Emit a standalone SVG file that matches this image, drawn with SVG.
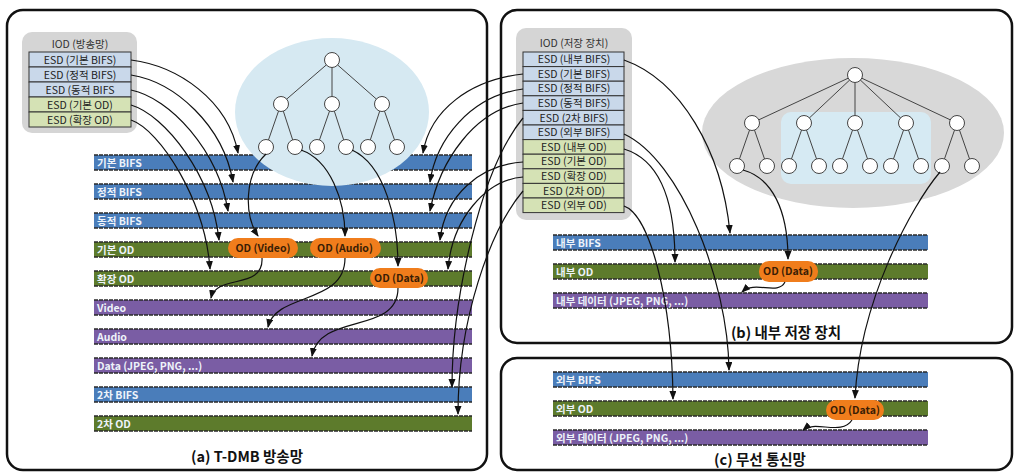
<svg xmlns="http://www.w3.org/2000/svg" width="1016" height="472" viewBox="0 0 1016 472">
<defs>
<marker id="ah" markerUnits="userSpaceOnUse" markerWidth="9" markerHeight="8" refX="8" refY="3.5" orient="auto"><path d="M0,0 L9,3.5 L0,7 z" fill="#111"/></marker>
<style>
.panel{fill:#fff;stroke:#111;stroke-width:2.5}
.iodbg{fill:#d5d5d5}
.ttl{font-family:"Noto Sans CJK KR","Liberation Sans",sans-serif;font-size:10.5px;fill:#333;text-anchor:middle}
.rb{fill:#c9d8ea;stroke:#333;stroke-width:1}
.rg{fill:#d5e2b5;stroke:#333;stroke-width:1}
.rt{font-family:"Noto Sans CJK KR","Liberation Sans",sans-serif;font-size:10.5px;fill:#222;text-anchor:middle}
.bB{fill:#4a7dba}
.bG{fill:#5d7b2c}
.bP{fill:#7a5da4}
.edge{stroke:#2a2a2a;stroke-width:1.4;stroke-dasharray:4 1}
.bt{font-family:"Noto Sans CJK KR","Liberation Sans",sans-serif;font-size:10.5px;font-weight:bold;fill:#eef3fa}
.tn{fill:#fff;stroke:#444;stroke-width:1}
.te{stroke:#444;stroke-width:1;fill:none}
.pill{fill:#f07d1c}
.pt{font-family:"Noto Sans CJK KR","Liberation Sans",sans-serif;font-size:10.5px;font-weight:bold;fill:#3a1d05;text-anchor:middle}
.cap{font-family:"Noto Sans CJK KR","Liberation Sans",sans-serif;font-size:14.5px;font-weight:bold;fill:#111;text-anchor:middle}
.c{fill:none;stroke:#111;stroke-width:1.2;marker-end:url(#ah)}
</style>
</defs>
<rect width="1016" height="472" fill="#fff"/>

<g id="panel-a">
<rect class="panel" x="7" y="10" width="480" height="460" rx="16"/>
<text class="cap" x="247" y="462">(a) T-DMB 방송망</text>
</g>
<g id="panel-b">
<rect class="panel" x="501" y="10" width="511" height="333" rx="16"/>
<text class="cap" x="786" y="338">(b) 내부 저장 장치</text>
</g>
<g id="panel-c">
<rect class="panel" x="501" y="358" width="511" height="112" rx="16"/>
<text class="cap" x="760" y="465">(c) 무선 통신망</text>
</g>

<g id="iod-broadcast">
<rect class="iodbg" x="22" y="32" width="115" height="101" rx="10"/>
<text class="ttl" x="80" y="48">IOD (방송망)</text>
<rect class="rb" x="29" y="52" width="102" height="15"/><text class="rt" x="80" y="63.5">ESD (기본 BIFS)</text>
<rect class="rb" x="29" y="67" width="102" height="15"/><text class="rt" x="80" y="78.5">ESD (정적 BIFS)</text>
<rect class="rb" x="29" y="82" width="102" height="15"/><text class="rt" x="80" y="93.5">ESD (동적 BIFS</text>
<rect class="rg" x="29" y="97" width="102" height="15"/><text class="rt" x="80" y="108.5">ESD (기본 OD)</text>
<rect class="rg" x="29" y="112" width="102" height="15"/><text class="rt" x="80" y="123.5">ESD (확장 OD)</text>
</g>

<g id="iod-storage">
<rect class="iodbg" x="516" y="28" width="116" height="192" rx="10"/>
<text class="ttl" x="574" y="47">IOD (저장 장치)</text>
<rect class="rb" x="523" y="52" width="101" height="14.6"/><text class="rt" x="574" y="63.2">ESD (내부 BIFS)</text>
<rect class="rb" x="523" y="66.6" width="101" height="14.6"/><text class="rt" x="574" y="77.8">ESD (기본 BIFS)</text>
<rect class="rb" x="523" y="81.2" width="101" height="14.6"/><text class="rt" x="574" y="92.4">ESD (정적 BIFS)</text>
<rect class="rb" x="523" y="95.8" width="101" height="14.6"/><text class="rt" x="574" y="107">ESD (동적 BIFS)</text>
<rect class="rb" x="523" y="110.4" width="101" height="14.6"/><text class="rt" x="574" y="121.6">ESD (2차 BIFS)</text>
<rect class="rb" x="523" y="125" width="101" height="14.6"/><text class="rt" x="574" y="136.2">ESD (외부 BIFS)</text>
<rect class="rg" x="523" y="139.6" width="101" height="14.6"/><text class="rt" x="574" y="150.8">ESD (내부 OD)</text>
<rect class="rg" x="523" y="154.2" width="101" height="14.6"/><text class="rt" x="574" y="165.4">ESD (기본 OD)</text>
<rect class="rg" x="523" y="168.8" width="101" height="14.6"/><text class="rt" x="574" y="180">ESD (확장 OD)</text>
<rect class="rg" x="523" y="183.4" width="101" height="14.6"/><text class="rt" x="574" y="194.6">ESD (2차 OD)</text>
<rect class="rg" x="523" y="198" width="101" height="14.6"/><text class="rt" x="574" y="209.2">ESD (외부 OD)</text>
</g>

<g id="streams-a">
<g id="bar-basic-bifs"><rect class="bB" x="94" y="155" width="378" height="15"/><line class="edge" x1="94" y1="155" x2="472" y2="155"/><line class="edge" x1="94" y1="170" x2="472" y2="170"/><text class="bt" x="97" y="166.5">기본 BIFS</text></g>
<g id="bar-static-bifs"><rect class="bB" x="94" y="184" width="378" height="15"/><line class="edge" x1="94" y1="184" x2="472" y2="184"/><line class="edge" x1="94" y1="199" x2="472" y2="199"/><text class="bt" x="97" y="195.5">정적 BIFS</text></g>
<g id="bar-dynamic-bifs"><rect class="bB" x="94" y="213" width="378" height="15"/><line class="edge" x1="94" y1="213" x2="472" y2="213"/><line class="edge" x1="94" y1="228" x2="472" y2="228"/><text class="bt" x="97" y="224.5">동적 BIFS</text></g>
<g id="bar-basic-od"><rect class="bG" x="94" y="242" width="378" height="15"/><line class="edge" x1="94" y1="242" x2="472" y2="242"/><line class="edge" x1="94" y1="257" x2="472" y2="257"/><text class="bt" x="97" y="253.5">기본 OD</text></g>
<g id="bar-ext-od"><rect class="bG" x="94" y="271" width="378" height="15"/><line class="edge" x1="94" y1="271" x2="472" y2="271"/><line class="edge" x1="94" y1="286" x2="472" y2="286"/><text class="bt" x="97" y="282.5">확장 OD</text></g>
<g id="bar-video"><rect class="bP" x="94" y="300" width="378" height="15"/><line class="edge" x1="94" y1="300" x2="472" y2="300"/><line class="edge" x1="94" y1="315" x2="472" y2="315"/><text class="bt" x="97" y="311.5">Video</text></g>
<g id="bar-audio"><rect class="bP" x="94" y="329" width="378" height="15"/><line class="edge" x1="94" y1="329" x2="472" y2="329"/><line class="edge" x1="94" y1="344" x2="472" y2="344"/><text class="bt" x="97" y="340.5">Audio</text></g>
<g id="bar-data"><rect class="bP" x="94" y="358" width="378" height="15"/><line class="edge" x1="94" y1="358" x2="472" y2="358"/><line class="edge" x1="94" y1="373" x2="472" y2="373"/><text class="bt" x="97" y="369.5">Data (JPEG, PNG, ...)</text></g>
<g id="bar-2nd-bifs"><rect class="bB" x="94" y="387" width="378" height="15"/><line class="edge" x1="94" y1="387" x2="472" y2="387"/><line class="edge" x1="94" y1="402" x2="472" y2="402"/><text class="bt" x="97" y="398.5">2차 BIFS</text></g>
<g id="bar-2nd-od"><rect class="bG" x="94" y="416" width="378" height="15"/><line class="edge" x1="94" y1="416" x2="472" y2="416"/><line class="edge" x1="94" y1="431" x2="472" y2="431"/><text class="bt" x="97" y="427.5">2차 OD</text></g>
</g>

<g id="streams-b">
<g id="bar-int-bifs"><rect class="bB" x="553" y="235" width="375" height="15"/><line class="edge" x1="553" y1="235" x2="928" y2="235"/><line class="edge" x1="553" y1="250" x2="928" y2="250"/><text class="bt" x="556" y="246.5">내부 BIFS</text></g>
<g id="bar-int-od"><rect class="bG" x="553" y="264" width="375" height="15"/><line class="edge" x1="553" y1="264" x2="928" y2="264"/><line class="edge" x1="553" y1="279" x2="928" y2="279"/><text class="bt" x="556" y="275.5">내부 OD</text></g>
<g id="bar-int-data"><rect class="bP" x="553" y="293" width="375" height="15"/><line class="edge" x1="553" y1="293" x2="928" y2="293"/><line class="edge" x1="553" y1="308" x2="928" y2="308"/><text class="bt" x="556" y="304.5">내부 데이터 (JPEG, PNG, ...)</text></g>
</g>

<g id="streams-c">
<g id="bar-ext-bifs"><rect class="bB" x="553" y="372" width="375" height="15"/><line class="edge" x1="553" y1="372" x2="928" y2="372"/><line class="edge" x1="553" y1="387" x2="928" y2="387"/><text class="bt" x="556" y="383.5">외부 BIFS</text></g>
<g id="bar-ext-od2"><rect class="bG" x="553" y="401" width="375" height="15"/><line class="edge" x1="553" y1="401" x2="928" y2="401"/><line class="edge" x1="553" y1="416" x2="928" y2="416"/><text class="bt" x="556" y="412.5">외부 OD</text></g>
<g id="bar-ext-data"><rect class="bP" x="553" y="430" width="375" height="15"/><line class="edge" x1="553" y1="430" x2="928" y2="430"/><line class="edge" x1="553" y1="445" x2="928" y2="445"/><text class="bt" x="556" y="441.5">외부 데이터 (JPEG, PNG, ...)</text></g>
</g>

<g id="scene-tree-a">
<ellipse cx="332" cy="112" rx="97" ry="74" fill="#d6e9f2"/>
<path class="te" d="M332,60 L281,104 M332,60 L332,104 M332,60 L382,104 M281,104 L266,147 M281,104 L295,147 M332,104 L317,147 M332,104 L346,147 M382,104 L368,147 M382,104 L397,147"/>
<circle class="tn" cx="332" cy="60" r="7.5"/>
<circle class="tn" cx="281" cy="104" r="7.5"/><circle class="tn" cx="332" cy="104" r="7.5"/><circle class="tn" cx="382" cy="104" r="7.5"/>
<circle class="tn" cx="266" cy="147" r="7.5"/><circle class="tn" cx="295" cy="147" r="7.5"/><circle class="tn" cx="317" cy="147" r="7.5"/><circle class="tn" cx="346" cy="147" r="7.5"/><circle class="tn" cx="368" cy="147" r="7.5"/><circle class="tn" cx="397" cy="147" r="7.5"/>
</g>

<g id="scene-tree-b">
<ellipse cx="853" cy="133" rx="151" ry="75" fill="#d8d8d8"/>
<rect x="781" y="112" width="150" height="72" rx="10" fill="#d6eaf3"/>
<path class="te" d="M855,75 L752,123 M855,75 L804,123 M855,75 L855,123 M855,75 L906,123 M855,75 L957,123 M752,123 L737,166 M752,123 L767,166 M804,123 L789,166 M804,123 L819,166 M855,123 L840,166 M855,123 L870,166 M906,123 L891,166 M906,123 L921,166 M957,123 L942,166 M957,123 L972,166"/>
<circle class="tn" cx="855" cy="75" r="7.5"/>
<circle class="tn" cx="752" cy="123" r="7.5"/><circle class="tn" cx="804" cy="123" r="7.5"/><circle class="tn" cx="855" cy="123" r="7.5"/><circle class="tn" cx="906" cy="123" r="7.5"/><circle class="tn" cx="957" cy="123" r="7.5"/>
<circle class="tn" cx="737" cy="166" r="7.5"/><circle class="tn" cx="767" cy="166" r="7.5"/><circle class="tn" cx="789" cy="166" r="7.5"/><circle class="tn" cx="819" cy="166" r="7.5"/><circle class="tn" cx="840" cy="166" r="7.5"/><circle class="tn" cx="870" cy="166" r="7.5"/><circle class="tn" cx="891" cy="166" r="7.5"/><circle class="tn" cx="921" cy="166" r="7.5"/><circle class="tn" cx="942" cy="166" r="7.5"/><circle class="tn" cx="972" cy="166" r="7.5"/>
</g>

<g id="od-video"><rect class="pill" x="228" y="238" width="70" height="20" rx="10"/><text class="pt" x="263" y="252">OD (Video)</text></g>
<g id="od-audio"><rect class="pill" x="310" y="238" width="71" height="20" rx="10"/><text class="pt" x="345" y="252">OD (Audio)</text></g>
<g id="od-data-a"><rect class="pill" x="370" y="268" width="58" height="20" rx="10"/><text class="pt" x="399" y="282">OD (Data)</text></g>
<g id="od-data-b"><rect class="pill" x="759" y="261" width="59" height="21" rx="10"/><text class="pt" x="788" y="275">OD (Data)</text></g>
<g id="od-data-c"><rect class="pill" x="826" y="400" width="58" height="20" rx="10"/><text class="pt" x="855" y="414">OD (Data)</text></g>

<g id="connectors">
<path class="c" d="M131,60 C178,66 228,100 238,153"/>
<path class="c" d="M131,75 C175,82 223,125 233,182"/>
<path class="c" d="M131,90 C170,98 218,150 228,211"/>
<path class="c" d="M131,105 C165,115 212,175 219,240"/>
<path class="c" d="M131,120 C160,130 205,200 210,269"/>
<path class="c" d="M266,154 C244,175 244,215 258,236"/>
<path class="c" d="M301,150 C330,160 345,200 345,236"/>
<path class="c" d="M352,150 C385,165 398,220 398,266"/>
<path class="c" d="M262,258 C264,290 216,274 211,298"/>
<path class="c" d="M345,258 C345,305 276,292 268,327"/>
<path class="c" d="M398,288 C398,335 320,312 312,356"/>
<path class="c" d="M523,74 C470,80 430,110 423,153"/>
<path class="c" d="M523,89 C470,96 436,140 430,182"/>
<path class="c" d="M523,103 C475,110 440,160 430,211"/>
<path class="c" d="M523,118 C480,170 452,300 452,387"/>
<path class="c" d="M523,162 C480,165 445,195 440,240"/>
<path class="c" d="M523,177 C485,180 452,220 448,269"/>
<path class="c" d="M523,191 C490,230 458,320 458,414"/>
<path class="c" d="M624,60 C680,80 722,150 730,233"/>
<path class="c" d="M624,134 C680,160 728,280 729,370"/>
<path class="c" d="M624,149 C660,160 675,200 675,262"/>
<path class="c" d="M624,206 C650,215 672,300 673,399"/>
<path class="c" d="M743,170 C772,178 788,210 788,259"/>
<path class="c" d="M940,172 C912,205 860,300 855,398"/>
<path class="c" d="M785,282 C778,296 755,280 742,292"/>
<path class="c" d="M852,420 C842,436 815,420 803,430"/>
</g>
</svg>
